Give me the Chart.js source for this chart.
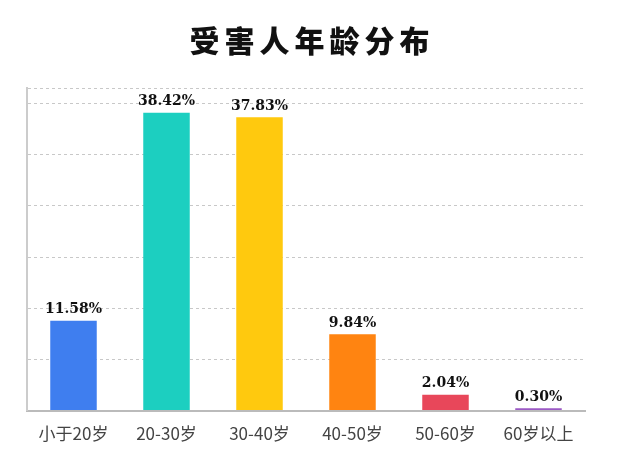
<!DOCTYPE html>
<html>
<head>
<meta charset="utf-8">
<script src="https://cdn.jsdelivr.net/npm/chart.js@4/dist/chart.umd.min.js"></script>
<style>
  html, body { margin: 0; padding: 0; background: #fff; }
  #wrap { width: 628px; height: 459px; }
</style>
</head>
<body>
<div id="wrap"><canvas id="age-chart"></canvas></div>
<script>
const categories = ['小于20岁', '20-30岁', '30-40岁', '40-50岁', '50-60岁', '60岁以上'];
const shares = [11.58, 38.42, 37.83, 9.84, 2.04, 0.30];
const barColors = ['#3f7eef', '#1ccfc0', '#ffc90e', '#ff8411', '#e8475a', '#9b59c5'];

const titlePlugin = {
  id: 'bigTitle',
  afterDraw(chart) {
    const ctx = chart.ctx;
    ctx.save();
    ctx.fillStyle = '#111';
    ctx.font = '900 30px "Noto Sans CJK SC"';
    ctx.textAlign = 'center';
    ctx.textBaseline = 'middle';
    ctx.letterSpacing = '5px';
    ctx.fillText('受害人年龄分布', 312, 41);
    ctx.restore();
  }
};

const valueLabels = {
  id: 'valueLabels',
  afterDatasetsDraw(chart) {
    const ctx = chart.ctx;
    const meta = chart.getDatasetMeta(0);
    ctx.save();
    ctx.fillStyle = '#111';
    ctx.font = 'bold 14px "DejaVu Serif"';
    ctx.textAlign = 'center';
    ctx.textBaseline = 'bottom';
    meta.data.forEach((bar, i) => {
      ctx.fillText(shares[i].toFixed(2) + '%', bar.x, bar.y - 4);
    });
    ctx.restore();
  }
};

new Chart(document.getElementById('age-chart'), {
  type: 'bar',
  data: {
    labels: categories,
    datasets: [{
      data: shares,
      backgroundColor: barColors,
      categoryPercentage: 1,
      barPercentage: 0.5
    }]
  },
  options: {
    responsive: true,
    maintainAspectRatio: false,
    animation: false,
    layout: { padding: { top: 88, left: 27, right: 43, bottom: 10 } },
    plugins: { legend: { display: false }, tooltip: { enabled: false } },
    scales: {
      x: {
        grid: { display: false },
        border: { color: '#bbb', width: 2 },
        ticks: { color: '#444', font: { size: 17, family: '"Noto Sans CJK SC"' }, padding: 5 }
      },
      y: {
        min: 0,
        max: 41.6,
        ticks: { display: false, stepSize: 6.6 },
        border: { color: '#ccc', width: 2, dash: [3, 3] },
        grid: { color: '#c8c8c8', lineWidth: 1, drawTicks: false },
        afterBuildTicks(axis) {
          axis.ticks = [0, 6.6, 13.2, 19.8, 26.4, 33, 39.6, 41.6].map(v => ({ value: v }));
        }
      }
    }
  },
  plugins: [titlePlugin, valueLabels]
});
</script>
</body>
</html>
